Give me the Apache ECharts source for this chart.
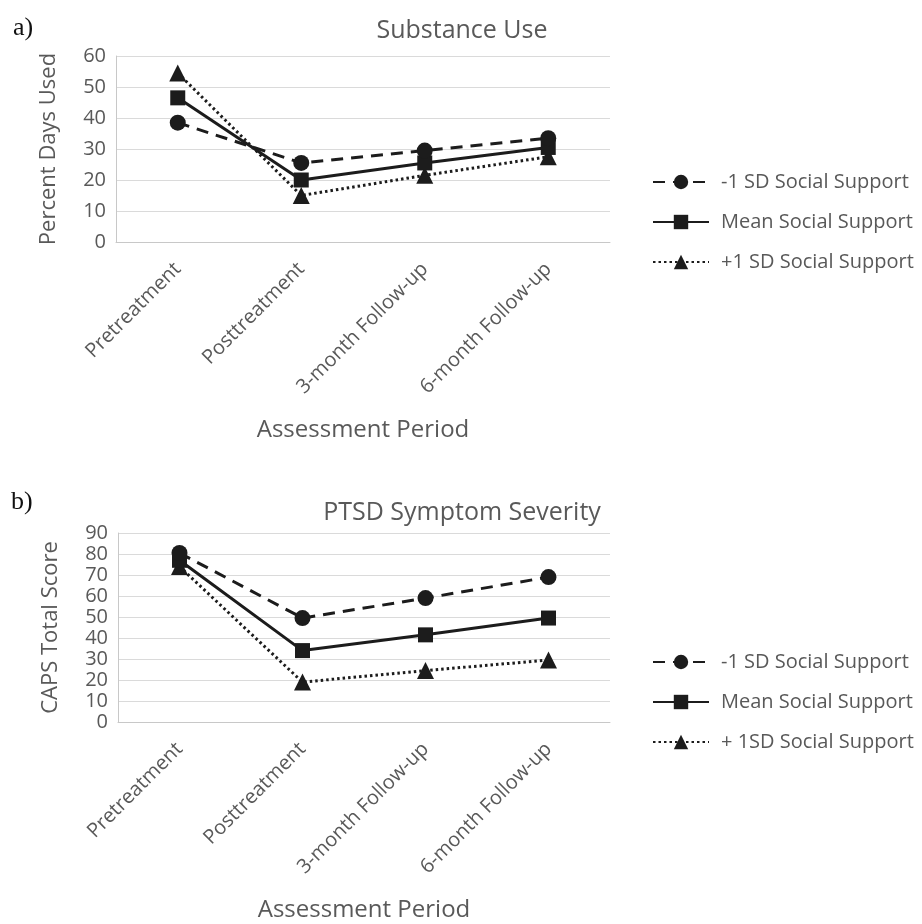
<!DOCTYPE html>
<html>
<head>
<meta charset="utf-8">
<script src="https://cdn.jsdelivr.net/npm/echarts@6/dist/echarts.min.js"></script>
<style>
  html, body { margin: 0; padding: 0; background: #fff; }
  #main { width: 922px; height: 924px; }
</style>
</head>
<body>
<div id="main"></div>
<script>
// 数据
const periods = ['Pretreatment', 'Posttreatment', '3-month Follow-up', '6-month Follow-up'];

// a) Substance Use (percent days used)
const useLow = [38.5, 25.5, 29.5, 33.5];
const useMean = [46.5, 20, 25.5, 30.5];
const useHigh = [54.5, 15, 21.5, 27.5];

// b) PTSD symptom severity (CAPS total)
const capsLow = [80.5, 49.5, 59, 69];
const capsMean = [77, 34, 41.5, 49.5];
const capsHigh = [74, 19, 24.5, 29.5];

const useNames = ['-1 SD Social Support', 'Mean Social Support', '+1 SD Social Support'];
const capsNames = ['-1 SD Social Support', 'Mean Social Support', '+ 1SD Social Support'];

const FONT = 'Open Sans';
const GRAY = '#595959';
const INK = '#1c1c1c';

const styles = [
  { symbol: 'circle', symbolSize: 16, type: [12, 8], cap: 'butt' },
  { symbol: 'rect', symbolSize: 15, type: 'solid', cap: 'butt' },
  { symbol: 'triangle', symbolSize: 17, type: [2.5, 3], cap: 'butt' }
];

function makeSeries(names, lists, idx) {
  return names.map(function (n, i) {
    return {
      name: n,
      type: 'line',
      xAxisIndex: idx,
      yAxisIndex: idx,
      data: lists[i],
      symbol: styles[i].symbol,
      symbolSize: styles[i].symbolSize,
      itemStyle: { color: INK },
      lineStyle: { color: INK, width: 3, type: styles[i].type, cap: styles[i].cap },
      z: 3 - i
    };
  });
}

function xAx(idx) {
  return {
    type: 'category',
    gridIndex: idx,
    data: periods,
    boundaryGap: true,
    name: 'Assessment Period',
    nameLocation: 'middle',
    nameGap: 176,
    nameMoveOverlap: false,
    nameTextStyle: { fontFamily: FONT, fontSize: 24, color: GRAY },
    axisLine: { lineStyle: { color: '#c8c8c8', width: 1 } },
    axisTick: { show: false },
    axisLabel: { rotate: 45, margin: 24, fontFamily: FONT, fontSize: 20, color: GRAY, interval: 0 }
  };
}

function yAx(idx, max, name) {
  return {
    type: 'value',
    gridIndex: idx,
    min: 0,
    max: max,
    interval: 10,
    name: name,
    nameLocation: 'middle',
    nameRotate: 90,
    nameGap: 56,
    nameMoveOverlap: false,
    nameTextStyle: { fontFamily: FONT, fontSize: 22, color: GRAY },
    axisLine: { show: true, lineStyle: { color: '#c8c8c8', width: 1 } },
    axisTick: { show: false },
    axisLabel: { margin: 10, fontFamily: FONT, fontSize: 20, color: GRAY },
    splitLine: { lineStyle: { color: '#dadada', width: 1 } }
  };
}

function legendAt(top, names) {
  return {
    orient: 'vertical',
    left: 652,
    top: top,
    padding: 0,
    itemWidth: 56,
    itemHeight: 18,
    itemGap: 20,
    data: names,
    textStyle: { fontFamily: FONT, fontSize: 20, color: GRAY, padding: [0, 0, 0, 7] },
    selectedMode: false
  };
}

function label(text, x, y, size, family, color, align) {
  return {
    text: text, left: x, top: y, padding: 0, textAlign: align,
    textStyle: { fontFamily: family, fontSize: size, fontWeight: 'normal', color: color }
  };
}

const chart = echarts.init(document.getElementById('main'));
const option = {
  animation: false,
  backgroundColor: '#fff',
  title: [
    label('a)', 13, 15, 26, 'Liberation Serif', '#111', 'left'),
    label('Substance Use', 462, 18, 25, FONT, GRAY, 'center'),
    label('b)', 11, 489, 26, 'Liberation Serif', '#111', 'left'),
    label('PTSD Symptom Severity', 462, 500, 25, FONT, GRAY, 'center')
  ],
  legend: [legendAt(172, useNames), legendAt(652, capsNames)],
  grid: [
    { left: 116, top: 56, width: 494, height: 186 },
    { left: 118, top: 533, width: 492, height: 189 }
  ],
  xAxis: [xAx(0), xAx(1)],
  yAxis: [yAx(0, 60, 'Percent Days Used'), yAx(1, 90, 'CAPS Total Score')],
  series: makeSeries(useNames, [useLow, useMean, useHigh], 0)
    .concat(makeSeries(capsNames, [capsLow, capsMean, capsHigh], 1))
};
chart.setOption(option);
</script>
</body>
</html>
